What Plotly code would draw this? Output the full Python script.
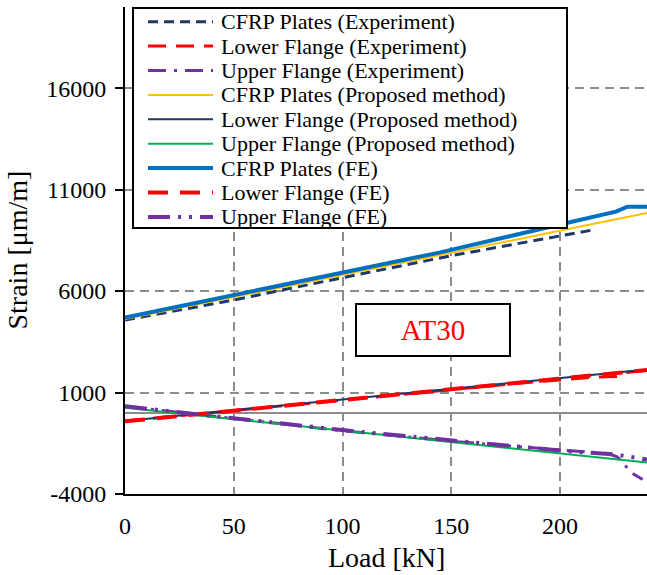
import plotly.graph_objects as go

# ---- data ----
load_cfrp_exp = [0, 50, 100, 144.5, 150, 200, 216]
cfrp_exp = [4570, 5560, 6660, 7636, 7743, 8718, 9030]

load_lower_exp = [0, 50, 100, 150, 180, 200, 215, 226, 230, 240]
lower_exp = [-400, 120, 650, 1150, 1450, 1620, 1750, 1790, 1980, 2100]

load_upper_exp = [0, 25, 50, 75, 100, 125, 150, 175, 200, 213, 222, 226, 228.5, 232.4, 238]
upper_exp = [320, 20, -296, -600, -880, -1130, -1399, -1620, -1842, -1956, -2005, -2150, -2384, -2925, -3286]

load_prop = [0, 240]
cfrp_prop = [4620, 9850]
lower_prop = [-400, 2130]
upper_prop = [250, -2450]

load_cfrp_fe = [0, 50, 100, 144.5, 200, 225.7, 231, 240]
cfrp_fe = [4700, 5800, 6910, 7897, 9279, 9916, 10160, 10160]

load_lower_fe = [0, 100, 200, 240]
lower_fe = [-420, 640, 1680, 2110]

load_upper_fe = [0, 100, 200, 225, 240]
upper_fe = [320, -850, -1860, -2050, -2300]

x_ticks = [0, 50, 100, 150, 200]
x_tick_labels = ["0", "50", "100", "150", "200"]
y_ticks = [-4000, 1000, 6000, 11000, 16000]
y_tick_labels = ["-4000", "1000", "6000", "11000", "16000"]

FONT = "Liberation Serif"

series = [
    ("CFRP Plates (Experiment)", load_cfrp_exp, cfrp_exp, "#203864", 3, "10px,6px"),
    ("Lower Flange (Experiment)", load_lower_exp, lower_exp, "#FF0000", 3, "18px,10px"),
    ("Upper Flange (Experiment)", load_upper_exp, upper_exp, "#7030A0", 3, "18px,8px,3px,8px"),
    ("CFRP Plates (Proposed method)", load_prop, cfrp_prop, "#FFC000", 2, "solid"),
    ("Lower Flange (Proposed method)", load_prop, lower_prop, "#1F3864", 2, "solid"),
    ("Upper Flange (Proposed method)", load_prop, upper_prop, "#00B050", 2, "solid"),
    ("CFRP Plates (FE)", load_cfrp_fe, cfrp_fe, "#0070C0", 4, "solid"),
    ("Lower Flange (FE)", load_lower_fe, lower_fe, "#FF0000", 4, "20px,12px"),
    ("Upper Flange (FE)", load_upper_fe, upper_fe, "#7030A0", 4, "22px,8px,3px,8px,3px,8px"),
]

# plot-area geometry (pixels)
W, H = 647, 575
L, R, T, B = 125, 0, 7, 81
PW, PH = W - L - R, H - T - B


def px(xp):
    return (xp - L) / PW


def py(yp):
    return (H - B - yp) / PH


fig = go.Figure()
for name, xs, ys, color, w, dash in series:
    fig.add_trace(go.Scatter(x=xs, y=ys, mode="lines", name=name, showlegend=False,
                             line=dict(color=color, width=w, dash=dash)))

# ---- hand-drawn legend box (to match the compact spacing) ----
shapes = [dict(type="rect", xref="paper", yref="paper", layer="above",
               x0=px(133), x1=px(567), y0=py(228), y1=py(8),
               line=dict(color="black", width=2), fillcolor="white")]
annotations = []
row0, step = 21.7, 24.4
for i, (name, xs, ys, color, w, dash) in enumerate(series):
    yc = row0 + step * i
    shapes.append(dict(type="line", xref="paper", yref="paper", layer="above",
                       x0=px(148), x1=px(213), y0=py(yc), y1=py(yc),
                       line=dict(color=color, width=w, dash=dash)))
    annotations.append(dict(xref="paper", yref="paper", x=px(219), y=py(yc),
                            xanchor="left", yanchor="middle", showarrow=False,
                            text=name, font=dict(family=FONT, size=22, color="black")))

annotations.append(dict(x=141.7, y=4079, xref="x", yref="y", text="AT30", showarrow=False,
                        font=dict(family=FONT, size=29, color="#FF0000"),
                        bgcolor="white", bordercolor="black", borderwidth=2,
                        width=148, height=46, borderpad=2))

# axis titles
annotations.append(dict(xref="paper", yref="paper", x=0.5, y=py(557), text="Load [kN]",
                        showarrow=False, xanchor="center", yanchor="middle",
                        font=dict(family=FONT, size=28, color="black")))
annotations.append(dict(xref="paper", yref="paper", x=px(17), y=0.5, text="Strain [μm/m]",
                        showarrow=False, xanchor="center", yanchor="middle", textangle=-90,
                        font=dict(family=FONT, size=28, color="black")))

fig.update_layout(
    width=W, height=H,
    margin=dict(l=L, r=R, t=T, b=B, autoexpand=False),
    paper_bgcolor="white", plot_bgcolor="white",
    font=dict(family=FONT, size=24, color="black"),
    showlegend=False,
    shapes=shapes,
    annotations=annotations,
    xaxis=dict(range=[0, 240], tickvals=x_ticks, ticktext=x_tick_labels, ticks="",
               showline=True, linecolor="black", linewidth=2,
               showgrid=True, gridcolor="#8c8c8c", gridwidth=2, griddash="9px,6px",
               zeroline=False, ticklabelstandoff=9, automargin=False,
               tickfont=dict(family=FONT, size=24, color="black")),
    yaxis=dict(range=[-4000, 20000], tickvals=y_ticks, ticktext=y_tick_labels,
               ticks="outside", ticklen=8, tickwidth=2, tickcolor="black",
               showline=True, linecolor="black", linewidth=2,
               showgrid=True, gridcolor="#8c8c8c", gridwidth=2, griddash="9px,6px",
               zeroline=True, zerolinecolor="#8c8c8c", zerolinewidth=2,
               ticklabelstandoff=4, automargin=False,
               tickfont=dict(family=FONT, size=24, color="black")),
)

fig.write_html("out.html", post_script="document.body.style.margin='0';",
               config={"displayModeBar": False})
